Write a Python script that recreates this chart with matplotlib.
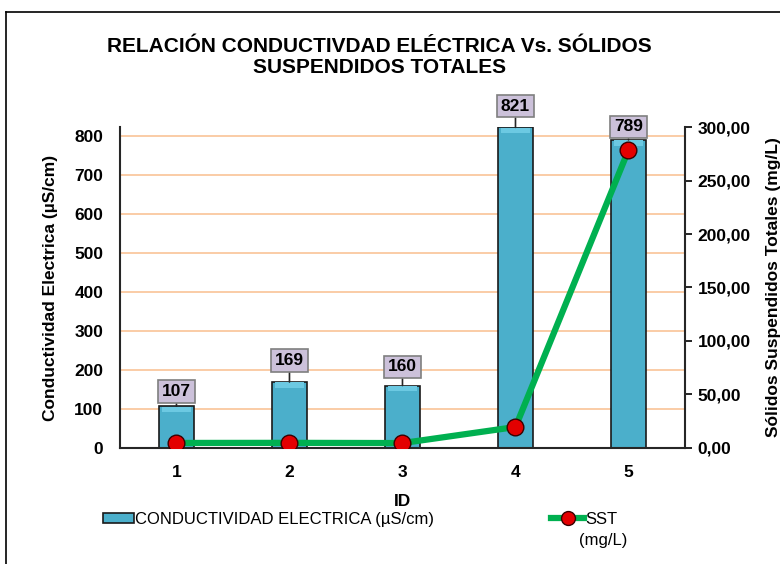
import matplotlib.pyplot as plt
import numpy as np
from matplotlib.lines import Line2D
from matplotlib.patches import Patch

plt.rcParams['font.family'] = ['Liberation Sans', 'DejaVu Sans']

# data
ids = ['1', '2', '3', '4', '5']
conductividad = [107, 169, 160, 821, 789]
sst = [4.7, 4.8, 4.6, 19.6, 278.5]
label_offsets = [5, 10, 8, 10, 4]  # pts above bar top for the value boxes

x = np.arange(len(ids))
bar_color = '#4bafcb'

fig = plt.figure(figsize=(7.8, 5.64), dpi=100)
ax1 = fig.add_axes([0.1538, 0.2057, 0.7244, 0.5691])
ax2 = ax1.twinx()

# bars (left axis)
ax1.bar(x, conductividad, width=0.31, color=bar_color, edgecolor='#1a1a1a',
        linewidth=1.2, zorder=3)
# lighter bevel strip at the top of each bar
ax1.bar(x, [14] * len(ids), bottom=np.array(conductividad) - 15, width=0.25,
        color='#6cc9e2', linewidth=0, zorder=3.5)
ax1.set_ylim(0, 822)
ax1.set_xlim(-0.5, len(ids) - 0.5)
ax1.set_yticks(np.arange(0, 900, 100))
ax1.grid(axis='y', color='#fac497', linewidth=1.2, zorder=0)
ax1.set_axisbelow(True)

for xi, v, off in zip(x, conductividad, label_offsets):
    ax1.annotate(str(v), xy=(xi, v), xytext=(0, off), textcoords='offset points',
                 ha='center', va='bottom', fontsize=12.5, fontweight='bold',
                 bbox=dict(boxstyle='square,pad=0.22', fc='#ccc1da', ec='#7f7f7f', lw=1.2),
                 arrowprops=dict(arrowstyle='-', color='#262626', lw=1.2,
                                 shrinkA=0, shrinkB=0),
                 zorder=5)

# line (right axis)
ax2.plot(x, sst, color='#00b050', linewidth=4.5, zorder=4,
         marker='o', markersize=12, markerfacecolor='#e30000',
         markeredgecolor='#3a0000', markeredgewidth=1.0)
ax2.set_ylim(0, 300)
ax2.set_yticks(np.arange(0, 301, 50))
ax2.set_yticklabels([f'{t:.2f}'.replace('.', ',') for t in np.arange(0, 301, 50)])

# axes styling
for a in (ax1, ax2):
    a.spines['top'].set_visible(False)
ax1.spines['right'].set_visible(False)
ax1.spines['left'].set_visible(False)
ax1.spines['bottom'].set_visible(False)
for s in ('left', 'right', 'bottom'):
    ax2.spines[s].set_color('#262626')
    ax2.spines[s].set_linewidth(1.5)

ax1.set_xticks(x)
ax1.set_xticklabels(ids)
ax1.tick_params(axis='x', length=0, pad=12, labelsize=12.5)
ax1.tick_params(axis='y', length=0, pad=12, labelsize=12.5)
ax2.tick_params(axis='y', length=5, width=1.2, pad=4, labelsize=12.5)
for lbl in ax1.get_xticklabels() + ax1.get_yticklabels() + ax2.get_yticklabels():
    lbl.set_fontweight('bold')

ax1.set_xlabel('ID', fontsize=12.5, fontweight='bold', labelpad=10)
ax1.set_ylabel('Conductividad Electrica (µS/cm)', fontsize=12.5, fontweight='bold', labelpad=12)
ax2.set_ylabel('Sólidos Suspendidos Totales (mg/L)', fontsize=12.5, fontweight='bold', labelpad=11)

fig.text(0.487, 0.899, 'RELACIÓN CONDUCTIVDAD ELÉCTRICA Vs. SÓLIDOS\nSUSPENDIDOS TOTALES',
         ha='center', va='center', fontsize=15, fontweight='bold', linespacing=1.1)

# legend
h1 = Patch(facecolor=bar_color, edgecolor='#1a1a1a', linewidth=1.2)
h2 = Line2D([], [], color='#00b050', linewidth=4.5, marker='o', markersize=10,
            markerfacecolor='#e30000', markeredgecolor='#3a0000')
fig.legend([h1], ['CONDUCTIVIDAD ELECTRICA (µS/cm)'], loc='center left',
           bbox_to_anchor=(0.123, 0.079), frameon=False, fontsize=12,
           handlelength=1.9, handleheight=0.6, handletextpad=0.05, borderaxespad=0)
fig.legend([h2], ['SST'], loc='center left', bbox_to_anchor=(0.698, 0.079),
           frameon=False, fontsize=12, handlelength=2.0, handletextpad=0.05, borderaxespad=0)
fig.text(0.742, 0.041, '(mg/L)', fontsize=12, va='center')

# outer chart border
fig.add_artist(Line2D([0.008, 0.008], [0, 0.979], color='black', lw=1.2))
fig.add_artist(Line2D([0.008, 1.0], [0.979, 0.979], color='black', lw=1.2))

fig.savefig('out.png', dpi=100)
